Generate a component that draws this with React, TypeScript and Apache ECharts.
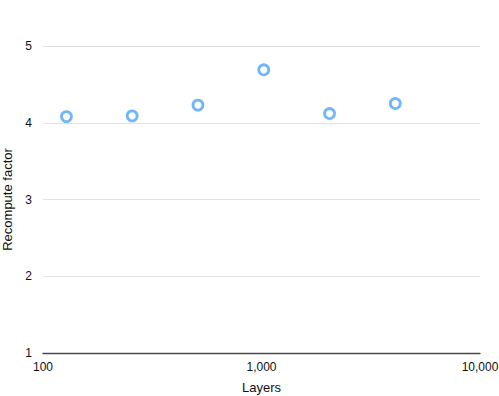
import React, { useEffect, useRef } from "react";
import * as echarts from "echarts";

const layers = [128, 256, 512, 1024, 2048, 4096];
const recompute = [4.08, 4.09, 4.23, 4.69, 4.12, 4.25];
const yTicks = [1, 2, 3, 4, 5];
const xTicks = [100, 1000, 10000];

export default function App() {
  const ref = useRef<HTMLDivElement>(null);
  useEffect(() => {
    const chart = echarts.init(ref.current!, null, { renderer: "svg" });
    const font = "Liberation Sans, Arial, Helvetica, sans-serif";
    chart.setOption({
      animation: false,
      grid: { left: 43, right: 19, top: 46, bottom: 43, containLabel: false, outerBoundsMode: "none" },
      xAxis: {
        type: "log",
        logBase: 10,
        min: xTicks[0],
        max: xTicks[xTicks.length - 1],
        name: "Layers",
        nameLocation: "middle",
        nameGap: 28,
        nameTextStyle: { fontSize: 13, color: "#111", fontFamily: font },
        axisLine: { show: true, lineStyle: { color: "#4a4a4a", width: 1.3 } },
        axisTick: { show: false },
        minorTick: { show: false },
        splitLine: { show: false },
        axisLabel: {
          fontSize: 12,
          color: "#111",
          fontFamily: font,
          margin: 8,
          formatter: (v: number) => Math.round(v).toLocaleString("en-US"),
        },
      },
      yAxis: {
        type: "value",
        min: yTicks[0],
        max: yTicks[yTicks.length - 1],
        interval: 1,
        name: "Recompute factor",
        nameLocation: "middle",
        nameGap: 28,
        nameTextStyle: { fontSize: 13, color: "#111", fontFamily: font },
        axisLine: { show: false },
        axisTick: { show: false },
        splitLine: { show: true, lineStyle: { color: "#e2e2e2", width: 1 } },
        axisLabel: { fontSize: 12, color: "#111", fontFamily: font, margin: 11 },
      },
      series: [
        {
          type: "scatter",
          data: layers.map((x, i) => [x, recompute[i]]),
          symbol: "circle",
          symbolSize: 10,
          itemStyle: { color: "#ffffff", borderColor: "#4da4fb", borderWidth: 2.8 },
        },
      ],
    });
    return () => chart.dispose();
  }, []);
  return <div ref={ref} style={{ width: 499, height: 396, position: "absolute", left: 0, top: 0 }} />;
}
